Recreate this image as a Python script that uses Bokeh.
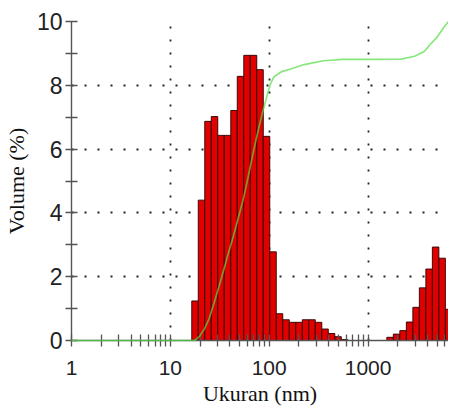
from bokeh.plotting import figure
from bokeh.models import FixedTicker, NumeralTickFormatter, Range1d, ColumnDataSource
from bokeh.embed import file_html
from bokeh.resources import INLINE

# Bin edges (nm) of the size histogram
bin_edges = [16.46, 19.15, 22.28, 25.93, 30.17, 35.10, 40.84, 47.52, 55.29, 64.33,
             74.85, 87.10, 101.3, 117.9, 137.2, 159.6, 185.7, 216.1, 251.4, 292.6,
             340.4, 396.1, 460.9, 536.2, 624.0, 726.1, 845.0, 983.3, 1144.0, 1331.0,
             1548.0, 1801.0, 2096.0, 2439.0, 2838.0, 3302.0, 3842.0, 4471.0, 5202.0,
             6053.0, 7040.0]
# Volume (%) in each bin
volume = [1.24, 4.40, 6.87, 7.02, 6.43, 6.43, 7.21, 8.28, 8.94, 8.94,
          8.49, 6.40, 2.78, 0.84, 0.65, 0.57, 0.57, 0.65, 0.65, 0.57,
          0.36, 0.22, 0.12, 0.03, 0.0, 0.0, 0.0, 0.0, 0.0, 0.0,
          0.10, 0.20, 0.31, 0.58, 1.04, 1.65, 2.24, 2.93, 2.58, 0.98]

# Cumulative (green) curve
curve_x = [1, 10, 17.6, 19.7, 22.0, 24.7, 27.6, 30.9, 34.6, 38.7, 43.4, 48.6, 54.4,
           60.9, 68.1, 76.3, 85.4, 95.6, 102, 112, 134, 168, 225, 354, 556, 1023,
           2155, 2958, 3707, 4240, 4966, 5820, 6510]
curve_y = [0, 0, 0, 0.13, 0.35, 0.69, 1.16, 1.67, 2.20, 2.74, 3.27, 3.84, 4.40,
           5.09, 5.82, 6.51, 7.14, 7.70, 8.02, 8.27, 8.43, 8.52, 8.65, 8.77, 8.81, 8.81,
           8.82, 8.91, 9.06, 9.28, 9.50, 9.81, 10.0]

x_major = [1, 10, 100, 1000]
y_major = [0, 2, 4, 6, 8, 10]
y_minor = [1, 3, 5, 7, 9]

p = figure(width=448, height=410, x_axis_type="log",
           x_range=Range1d(1, 6510), y_range=Range1d(0, 10),
           output_backend="svg", toolbar_location=None,
           min_border_left=67, min_border_right=0, min_border_top=21,
           min_border_bottom=70)
p.outline_line_color = None
p.background_fill_color = "white"
p.border_fill_color = "white"

lo = [bin_edges[i] for i in range(len(volume)) if volume[i] > 0]
hi = [bin_edges[i + 1] for i in range(len(volume)) if volume[i] > 0]
top = [v for v in volume if v > 0]
src = ColumnDataSource(dict(left=lo, right=hi, top=top, bottom=[0] * len(top)))
p.quad(left="left", right="right", top="top", bottom="bottom", source=src,
       fill_color="#e10000", line_color="#2a0000", line_width=0.9)

p.line(curve_x, curve_y, line_color="#55dd44", line_width=1.7, line_alpha=0.7,
       level="overlay")

x_minor = [m * d for d in x_major for m in range(2, 10)]
xt = FixedTicker(ticks=x_major, minor_ticks=x_minor)
yt = FixedTicker(ticks=y_major, minor_ticks=y_minor)
p.xaxis.ticker = xt
p.xgrid.ticker = xt
p.yaxis.ticker = yt
p.ygrid.ticker = yt
p.xaxis.formatter = NumeralTickFormatter(format="0")

for g in (p.xgrid, p.ygrid):
    g.grid_line_color = "#222222"
    g.grid_line_dash = "2 11"
    g.grid_line_width = 1.8

for ax in (p.xaxis, p.yaxis):
    ax.axis_line_color = "#555555"
    ax.axis_line_width = 1.4
    ax.major_tick_line_color = "#555555"
    ax.minor_tick_line_color = "#555555"
    ax.major_tick_line_width = 1.3
    ax.minor_tick_line_width = 1.3
    ax.major_tick_in = 6
    ax.major_tick_out = 6
    ax.minor_tick_in = 6
    ax.minor_tick_out = 6
    ax.major_label_text_font = "Liberation Sans"
    ax.major_label_text_color = "#222222"
    ax.axis_label_text_font = "Liberation Serif"
    ax.axis_label_text_font_style = "normal"
    ax.axis_label_text_font_size = "22px"
    ax.axis_label_text_color = "#111111"

p.xaxis.major_label_text_font_size = "21px"
p.yaxis.major_label_text_font_size = "23px"
p.xaxis.major_label_standoff = 14
p.yaxis.major_label_standoff = 3
p.xaxis.axis_label = "Ukuran (nm)"
p.yaxis.axis_label = "Volume (%)"
p.xaxis.axis_label_standoff = 3
p.yaxis.axis_label_standoff = 5

open("out.html", "w").write(file_html(p, INLINE))
